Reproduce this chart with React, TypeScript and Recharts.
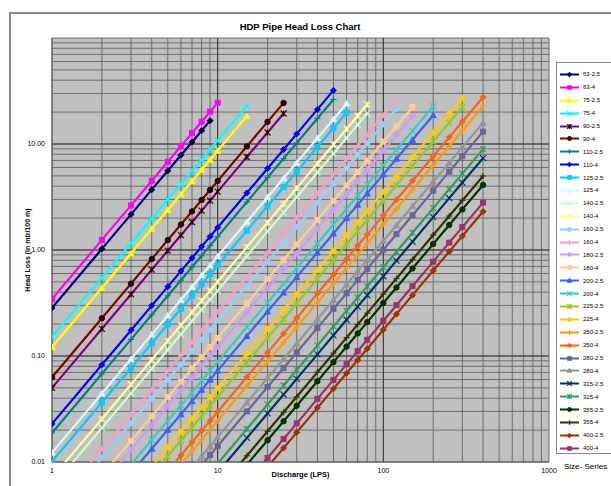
import { ScatterChart, Scatter, XAxis, YAxis, CartesianGrid, ReferenceLine } from 'recharts';

// discharge steps (LPS) shared by every series
const DISCHARGE = [1, 2, 3, 4, 5, 6, 7, 8, 9, 10, 15, 20, 25, 30, 40, 50, 60, 70, 80, 100, 120, 150, 200, 250, 300, 400];

const SERIES_NAMES = [
  '63-2.5', '63-4', '75-2.5', '75-4', '90-2.5', '90-4', '110-2.5', '110-4', '125-2.5', '125-4',
  '140-2.5', '140-4', '160-2.5', '160-4', '180-2.5', '180-4', '200-2.5', '200-4', '225-2.5', '225-4',
  '250-2.5', '250-4', '280-2.5', '280-4', '315-2.5', '315-4', '355-2.5', '355-4', '400-2.5', '400-4',
];

// head loss (m/100 m), one row per series, aligned with DISCHARGE
const HEAD_LOSS: (number | null)[][] = [
  [0.284, 1.025, 2.17, 3.71, 5.59, 7.84, 10.42, 13.35, 16.61],
  [0.345, 1.245, 2.636, 4.502, 6.797, 9.522, 12.66, 16.22, 20.18, 24.53],
  [0.1215, 0.4386, 0.9283, 1.586, 2.394, 3.353, 4.459, 5.711, 7.108, 8.639, 18.32],
  [0.152, 0.5487, 1.161, 1.984, 2.994, 4.195, 5.578, 7.144, 8.892, 10.81, 22.92],
  [0.05, 0.1805, 0.382, 0.6525, 0.985, 1.38, 1.835, 2.35, 2.925, 3.555, 7.54, 12.83, 19.38],
  [0.063, 0.2274, 0.4813, 0.8222, 1.241, 1.739, 2.312, 2.961, 3.686, 4.479, 9.5, 16.17, 24.42],
  [0.0188, 0.0679, 0.1436, 0.2453, 0.3704, 0.5189, 0.69, 0.8836, 1.1, 1.337, 2.835, 4.824, 7.287, 10.22, 17.41, 26.32],
  [0.0229, 0.0827, 0.175, 0.2988, 0.4511, 0.632, 0.8404, 1.076, 1.34, 1.628, 3.453, 5.876, 8.876, 12.45, 21.21, 32.06],
  [0.0101, 0.03646, 0.07716, 0.1318, 0.199, 0.2788, 0.3707, 0.4747, 0.5909, 0.7181, 1.523, 2.592, 3.915, 5.489, 9.353, 14.14, 19.84],
  [0.01227, 0.0443, 0.09374, 0.1601, 0.2417, 0.3387, 0.4503, 0.5767, 0.7178, 0.8724, 1.85, 3.148, 4.756, 6.669, 11.36, 17.18, 24.1],
  [0.005813, 0.02098, 0.04441, 0.07586, 0.1145, 0.1604, 0.2133, 0.2732, 0.3401, 0.4133, 0.8766, 1.492, 2.253, 3.159, 5.383, 8.138, 11.42, 15.2, 19.43],
  [0.007062, 0.02549, 0.05395, 0.09216, 0.1391, 0.1949, 0.2592, 0.3319, 0.4131, 0.5021, 1.065, 1.812, 2.737, 3.838, 6.539, 9.887, 13.87, 18.46, 23.61],
  [0.003033, 0.01095, 0.02317, 0.03958, 0.05975, 0.08371, 0.1113, 0.1426, 0.1774, 0.2157, 0.4574, 0.7783, 1.176, 1.648, 2.809, 4.246, 5.957, 7.928, 10.14, 15.34, 21.5],
  [0.003685, 0.0133, 0.02815, 0.04809, 0.0726, 0.1017, 0.1352, 0.1732, 0.2156, 0.262, 0.5557, 0.9456, 1.428, 2.003, 3.412, 5.159, 7.237, 9.633, 12.32, 18.64, 26.13],
  [null, 0.00617, 0.01306, 0.02232, 0.03369, 0.0472, 0.06276, 0.08037, 0.1, 0.1216, 0.2579, 0.4388, 0.6628, 0.9294, 1.583, 2.394, 3.358, 4.47, 5.717, 8.649, 12.12, 18.31],
  [null, 0.007498, 0.01587, 0.02711, 0.04092, 0.05733, 0.07623, 0.09762, 0.1215, 0.1477, 0.3132, 0.533, 0.805, 1.129, 1.923, 2.908, 4.079, 5.429, 6.943, 10.51, 14.73, 22.24],
  [null, null, 0.007816, 0.01335, 0.02015, 0.02823, 0.03754, 0.04808, 0.05985, 0.07274, 0.1543, 0.2625, 0.3965, 0.556, 0.9473, 1.432, 2.009, 2.674, 3.42, 5.174, 7.253, 10.96, 18.68],
  [null, 0.004487, 0.009497, 0.01622, 0.02449, 0.03431, 0.04562, 0.05842, 0.07272, 0.08838, 0.1874, 0.319, 0.4818, 0.6756, 1.151, 1.74, 2.441, 3.249, 4.155, 6.287, 8.813, 13.31, 22.7],
  [null, null, null, 0.00753, 0.01137, 0.01593, 0.02118, 0.02712, 0.03375, 0.04102, 0.08701, 0.1481, 0.2236, 0.3136, 0.5343, 0.8078, 1.133, 1.508, 1.929, 2.918, 4.091, 6.18, 10.54, 15.91, 22.31],
  [null, null, null, 0.009135, 0.01379, 0.01932, 0.02569, 0.0329, 0.04095, 0.04977, 0.1056, 0.1796, 0.2713, 0.3805, 0.6482, 0.98, 1.375, 1.83, 2.34, 3.541, 4.963, 7.497, 12.78, 19.31, 27.06],
  [null, null, null, null, 0.006802, 0.00953, 0.01267, 0.01623, 0.0202, 0.02455, 0.05207, 0.0886, 0.1338, 0.1877, 0.3197, 0.4834, 0.6782, 0.9026, 1.154, 1.747, 2.448, 3.698, 6.305, 9.523, 13.35, 22.72],
  [null, null, null, null, 0.008264, 0.01158, 0.0154, 0.01972, 0.02454, 0.02983, 0.06326, 0.1076, 0.1626, 0.228, 0.3885, 0.5873, 0.8239, 1.097, 1.402, 2.122, 2.974, 4.493, 7.66, 11.57, 16.22, 27.6],
  [null, null, null, null, null, null, 0.007296, 0.009344, 0.01163, 0.01413, 0.02998, 0.05101, 0.07705, 0.108, 0.1841, 0.2783, 0.3904, 0.5197, 0.6646, 1.006, 1.409, 2.129, 3.63, 5.483, 7.686, 13.08],
  [null, null, null, null, null, null, 0.008863, 0.01135, 0.01413, 0.01717, 0.03642, 0.06197, 0.09361, 0.1313, 0.2236, 0.3381, 0.4743, 0.6313, 0.8073, 1.222, 1.712, 2.586, 4.41, 6.661, 9.336, 15.89],
  [null, null, null, null, null, null, null, null, null, 0.007956, 0.01687, 0.02871, 0.04337, 0.06082, 0.1036, 0.1567, 0.2198, 0.2925, 0.3741, 0.566, 0.7934, 1.198, 2.043, 3.086, 4.326, 7.363],
  [null, null, null, null, null, null, null, null, 0.00795, 0.009662, 0.02049, 0.03487, 0.05267, 0.07386, 0.1258, 0.1903, 0.2669, 0.3552, 0.4543, 0.6874, 0.9635, 1.455, 2.482, 3.748, 5.254, 8.942],
  [null, null, null, null, null, null, null, null, null, 0.004442, 0.009422, 0.01603, 0.02422, 0.03396, 0.05786, 0.08747, 0.1227, 0.1633, 0.2089, 0.316, 0.443, 0.6692, 1.141, 1.723, 2.415, 4.111],
  [null, null, null, null, null, null, null, null, null, 0.005396, 0.01145, 0.01948, 0.02942, 0.04125, 0.07028, 0.1063, 0.1491, 0.1984, 0.2537, 0.3839, 0.5381, 0.8129, 1.386, 2.093, 2.934, 4.994],
  [null, null, null, null, null, null, null, null, null, null, null, 0.008986, 0.01357, 0.01903, 0.03243, 0.04903, 0.06878, 0.09154, 0.1171, 0.1771, 0.2483, 0.3751, 0.6395, 0.9659, 1.354, 2.304],
  [null, null, null, null, null, null, null, null, null, null, 0.006415, 0.01092, 0.01649, 0.02312, 0.03939, 0.05956, 0.08355, 0.1112, 0.1422, 0.2152, 0.3016, 0.4556, 0.7768, 1.173, 1.645, 2.799],
];

const X_TICKS = [1, 2, 3, 4, 5, 6, 7, 8, 9, 10, 20, 30, 40, 50, 60, 70, 80, 90, 100, 200, 300, 400, 500, 600, 700, 800, 900, 1000];
const Y_TICKS = [
  0.01, 0.02, 0.03, 0.04, 0.05, 0.06, 0.07, 0.08, 0.09,
  0.1, 0.2, 0.3, 0.4, 0.5, 0.6, 0.7, 0.8, 0.9,
  1, 2, 3, 4, 5, 6, 7, 8, 9,
  10, 20, 30, 40, 50, 60, 70, 80, 90, 100,
];
const X_MAJOR = [10, 100];
const Y_MAJOR = [0.1, 1, 10];

// excel 2003 series palette
const COLORS = [
  '#000080', '#FF00FF', '#FFFF00', '#00FFFF', '#800080', '#800000', '#008080', '#0000FF', '#00CCFF', '#CCFFFF',
  '#CCFFCC', '#FFFF99', '#99CCFF', '#FF99CC', '#CC99FF', '#FFCC99', '#3366FF', '#33CCCC', '#99CC00', '#FFCC00',
  '#FF9900', '#FF6600', '#666699', '#969696', '#003366', '#339966', '#003300', '#333300', '#993300', '#993366',
];

const FONT = '"Liberation Sans", Arial, sans-serif';

const isDecade = (v: number) => Math.abs(Math.log10(v) - Math.round(Math.log10(v))) < 1e-6;

function Marker({ cx, cy, kind, color, s = 3 }: { cx: number; cy: number; kind: number; color: string; s?: number }) {
  if (cx == null || cy == null) return null;
  switch (kind) {
    case 0:
      return <polygon points={`${cx},${cy - s} ${cx + s},${cy} ${cx},${cy + s} ${cx - s},${cy}`} fill={color} stroke={color} />;
    case 1:
      return <rect x={cx - s + 0.5} y={cy - s + 0.5} width={2 * s - 1} height={2 * s - 1} fill={color} stroke={color} />;
    case 2:
      return <polygon points={`${cx},${cy - s} ${cx + s},${cy + s - 0.5} ${cx - s},${cy + s - 0.5}`} fill={color} stroke={color} />;
    case 3:
      return (
        <g stroke={color} strokeWidth={1.2}>
          <line x1={cx - s} y1={cy - s} x2={cx + s} y2={cy + s} />
          <line x1={cx - s} y1={cy + s} x2={cx + s} y2={cy - s} />
        </g>
      );
    case 4:
      return (
        <g stroke={color} strokeWidth={1.2}>
          <line x1={cx - s} y1={cy - s} x2={cx + s} y2={cy + s} />
          <line x1={cx - s} y1={cy + s} x2={cx + s} y2={cy - s} />
          <line x1={cx} y1={cy - s} x2={cx} y2={cy + s} />
        </g>
      );
    case 5:
      return <circle cx={cx} cy={cy} r={s - 0.3} fill={color} stroke={color} />;
    default:
      return (
        <g stroke={color} strokeWidth={1.2}>
          <line x1={cx - s} y1={cy} x2={cx + s} y2={cy} />
          <line x1={cx} y1={cy - s} x2={cx} y2={cy + s} />
        </g>
      );
  }
}

// first series show darker markers like the original
const markerColor = (i: number) => (i === 0 ? '#000040' : i === 4 || i === 5 ? '#300000' : COLORS[i]);

const seriesData = HEAD_LOSS.map((row) =>
  row.flatMap((h, j) => (h == null ? [] : [{ x: DISCHARGE[j], y: h }]))
);

export default function App() {
  return (
    <div style={{ position: 'absolute', left: 0, top: 0, width: 611, height: 486, background: '#fff', overflow: 'hidden', fontFamily: FONT }}>
      <div style={{ position: 'absolute', left: 9, top: 12, width: 700, height: 600, borderLeft: '2px solid #8a8a8a', borderTop: '2px solid #8a8a8a' }} />
      <div style={{ position: 'absolute', left: 200, top: 21, width: 200, textAlign: 'center', fontSize: 9.5, fontWeight: 'bold' }}>
        HDP Pipe Head Loss Chart
      </div>
      <div style={{ position: 'absolute', left: 0, top: 0 }}>
        <ScatterChart width={611} height={486} margin={{ top: 38, right: 62, bottom: 0, left: 0 }}>
          <CartesianGrid stroke="#6e6e6e" fill="#c0c0c0" fillOpacity={1} />
          <XAxis
            dataKey="x"
            type="number"
            scale="log"
            domain={[1, 1000]}
            allowDataOverflow
            ticks={X_TICKS}
            interval={0}
            tickFormatter={(v: number) => (isDecade(v) ? String(v) : '')}
            tick={{ fontSize: 7, fill: '#000', fontFamily: FONT }}
            tickLine={false}
            tickSize={3}
            tickMargin={3}
            axisLine={{ stroke: '#555' }}
            height={24}
            label={{ value: 'Discharge (LPS)', position: 'insideBottom', offset: 9, style: { fontSize: 7.5, fontWeight: 'bold', fill: '#000', fontFamily: FONT } }}
          />
          <YAxis
            dataKey="y"
            type="number"
            scale="log"
            domain={[0.01, 100]}
            allowDataOverflow
            ticks={Y_TICKS}
            interval={0}
            tickFormatter={(v: number) => (isDecade(v) && v < 100 ? v.toFixed(2) : '')}
            tick={{ fontSize: 7, fill: '#000', fontFamily: FONT }}
            tickLine={false}
            tickSize={3}
            tickMargin={4}
            axisLine={{ stroke: '#555' }}
            width={52}
            label={{ value: 'Head Loss (in mtr/100 m)', angle: -90, position: 'insideLeft', offset: 28, style: { textAnchor: 'middle', fontSize: 7, fontWeight: 'bold', fill: '#000', fontFamily: FONT } }}
          />
          {X_MAJOR.map((v) => (
            <ReferenceLine key={'x' + v} x={v} stroke="#3a3a3a" />
          ))}
          {Y_MAJOR.map((v) => (
            <ReferenceLine key={'y' + v} y={v} stroke="#3a3a3a" />
          ))}
          {SERIES_NAMES.map((name, i) => (
            <Scatter
              key={name}
              name={name}
              data={seriesData[i]}
              fill={COLORS[i]}
              line={{ stroke: COLORS[i], strokeWidth: 2.2 }}
              lineJointType="linear"
              isAnimationActive={false}
              shape={(p: any) => <Marker cx={p.cx} cy={p.cy} kind={i % 7} color={markerColor(i)} />}
            />
          ))}
        </ScatterChart>
      </div>
      <div style={{ position: 'absolute', left: 556, top: 62, width: 70, height: 392, background: '#fff', border: '1px solid #8a8a8a', boxSizing: 'border-box', paddingTop: 5 }}>
        {SERIES_NAMES.map((name, i) => (
          <div key={name} style={{ height: 12.9, display: 'flex', alignItems: 'center' }}>
            <svg width={24} height={9} style={{ display: 'block' }}>
              <line x1={3} x2={22} y1={4.5} y2={4.5} stroke={COLORS[i]} strokeWidth={2} />
              <Marker cx={12.5} cy={4.5} kind={i % 7} color={markerColor(i)} s={2.3} />
            </svg>
            <span style={{ fontSize: 6, marginLeft: 2, whiteSpace: 'nowrap' }}>{name}</span>
          </div>
        ))}
      </div>
      <div style={{ position: 'absolute', left: 564, top: 462, fontSize: 8, whiteSpace: 'nowrap' }}>Size- Series</div>
    </div>
  );
}
